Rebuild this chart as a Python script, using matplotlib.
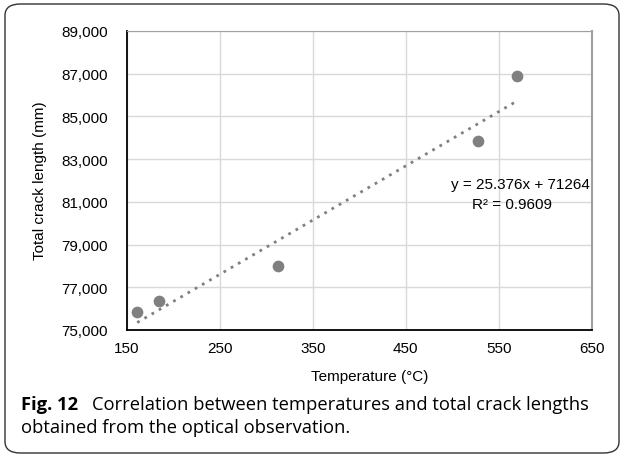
import numpy as np
import matplotlib.pyplot as plt
from matplotlib.patches import FancyBboxPatch

# Data
temperature = [161, 184, 313, 528, 570]
crack_length = [75860, 76370, 78010, 83850, 86880]
slope = 25.376
intercept = 71264
r_squared = 0.9609
x_ticks = [150, 250, 350, 450, 550, 650]
y_ticks = [75000, 77000, 79000, 81000, 83000, 85000, 87000, 89000]

W, H = 624, 456
fig = plt.figure(figsize=(W / 100, H / 100), dpi=100)
plt.rcParams['font.family'] = ['Liberation Sans', 'DejaVu Sans']

# Rounded outer frame
frame = FancyBboxPatch((5 / W, 2 / H), 614 / W, 449 / H,
                       boxstyle="round,pad=0,rounding_size=0.025",
                       transform=fig.transFigure, fill=False,
                       edgecolor="#333333", linewidth=1.0)
fig.patches.append(frame)

ax = fig.add_axes([127 / W, 1 - 331 / H, 464.5 / W, 299 / H])

ax.scatter(temperature, crack_length, s=55, color="#808080", zorder=3)

# Linear trend line
x_fit = np.array([min(temperature), max(temperature)])
y_fit = slope * x_fit + intercept
ax.plot(x_fit, y_fit, linestyle=(0, (1, 2)), color="#808080", linewidth=2, zorder=2)

ax.text(574, 81840, f"y = {slope}x + {intercept}", ha="center", va="center", fontsize=11)
ax.text(564, 80880, f"R² = {r_squared}", ha="center", va="center", fontsize=11)

ax.set_xlim(150, 650)
ax.set_ylim(75000, 89000)
ax.set_xticks(x_ticks)
ax.set_yticks(y_ticks)
ax.set_yticklabels([f"{v:,}" for v in y_ticks])
ax.tick_params(length=0, labelsize=11)
ax.tick_params(axis="y", pad=14)
ax.tick_params(axis="x", pad=8)
ax.grid(True, color="#d9d9d9", linewidth=1)
ax.set_axisbelow(True)

ax.spines["left"].set_color("black")
ax.spines["bottom"].set_color("black")
ax.spines["left"].set_linewidth(1.3)
ax.spines["bottom"].set_linewidth(1.3)
ax.spines["top"].set_color("#a0a0a0")
ax.spines["right"].set_color("#a0a0a0")
ax.spines["right"].set_linewidth(1.5)

fig.text(370 / W, 1 - 377 / H, "Temperature (°C)", fontsize=11, ha="center", va="center")
fig.text(40 / W, 1 - 181 / H, "Total crack length (mm)", fontsize=11,
         rotation=90, ha="center", va="center")

# Caption
cap = dict(fontsize=13.2, family="Open Sans", va="center")
fig.text(21 / W, 1 - 405 / H, "Fig. 12", fontweight="bold", **cap)
fig.text(92 / W, 1 - 405 / H, "Correlation between temperatures and total crack lengths", **cap)
fig.text(21 / W, 1 - 428 / H, "obtained from the optical observation.", **cap)

fig.savefig("out.png", dpi=100)
